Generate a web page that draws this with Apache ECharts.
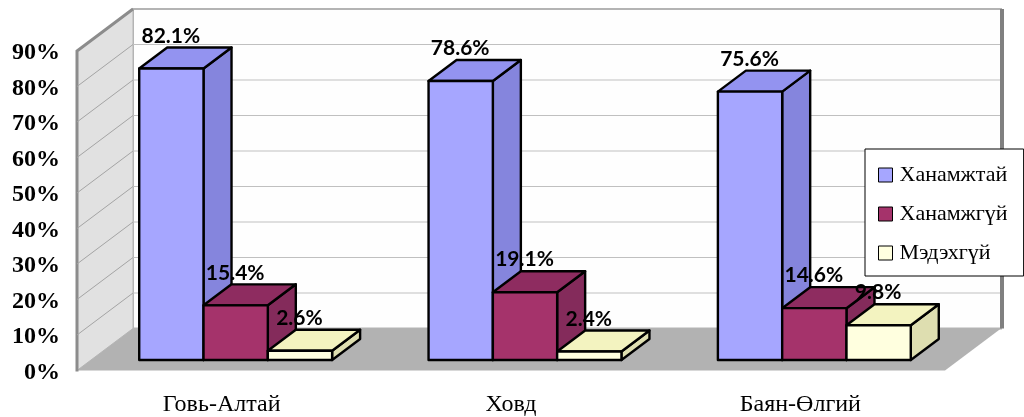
<!DOCTYPE html>
<html>
<head>
<meta charset="utf-8">
<style>html,body{margin:0;padding:0;background:#fff}#chart{width:1024px;height:417px}</style>
<script src="https://cdn.jsdelivr.net/npm/echarts@6/dist/echarts.min.js"></script>
</head>
<body>
<div id="chart"></div>
<script>
// Survey shares per province
const categories = ['Говь-Алтай', 'Ховд', 'Баян-Өлгий'];
const satisfied = [82.1, 78.6, 75.6];
const unsatisfied = [15.4, 19.1, 14.6];
const unknown = [2.6, 2.4, 9.8];
const seriesNames = ['Ханамжтай', 'Ханамжгүй', 'Мэдэхгүй'];
const ticks = [0, 10, 20, 30, 40, 50, 60, 70, 80, 90];

// Front, top and side shades of each box
const shades = [
  { front: '#a6a6ff', top: '#9393f0', side: '#8585dd' },
  { front: '#a5336b', top: '#8e2c60', side: '#842b5b' },
  { front: '#ffffdf', top: '#f3f3c0', side: '#dedeb0' }
];

// Oblique projection: how far the back of the chart box is shifted
const DEPTH_X = 56;
const DEPTH_Y = 42;
const NEAR = 0.25;   // front face of a bar, as a fraction of the depth
const FAR = 0.75;    // back face of a bar

function pts(list) { return { points: list }; }

// Walls, floor and gridlines, one call per axis tick
function renderFrame(params, api) {
  const sys = params.coordSys;
  const left = sys.x, right = sys.x + sys.width;
  const v = api.value(1);
  const y = api.coord([0, v])[1];
  const y0 = sys.y + sys.height, yTop = sys.y;
  const children = [];
  if (v === 0) {
    children.push({ type: 'polygon', shape: pts([[left + DEPTH_X, yTop - DEPTH_Y], [right + DEPTH_X, yTop - DEPTH_Y], [right + DEPTH_X, y0 - DEPTH_Y], [left + DEPTH_X, y0 - DEPTH_Y]]), style: { fill: '#fefefe', stroke: '#b4b4b4', lineWidth: 2 } });
    children.push({ type: 'polygon', shape: pts([[left, yTop], [left + DEPTH_X, yTop - DEPTH_Y], [left + DEPTH_X, y0 - DEPTH_Y], [left, y0]]), style: { fill: '#e1e1e1', stroke: '#b4b4b4', lineWidth: 1 } });
    children.push({ type: 'polygon', shape: pts([[left, y0], [left + DEPTH_X, y0 - DEPTH_Y], [right + DEPTH_X, y0 - DEPTH_Y], [right, y0]]), style: { fill: '#b2b2b2' } });
    children.push({ type: 'polyline', shape: pts([[left, y0 + 1], [left, yTop], [left + DEPTH_X, yTop - DEPTH_Y]]), style: { fill: 'none', stroke: '#8c8c8c', lineWidth: 3 } });
    children.push({ type: 'line', shape: { x1: right + DEPTH_X + 1, y1: yTop - DEPTH_Y, x2: right + DEPTH_X + 1, y2: y0 - DEPTH_Y }, style: { stroke: '#808080', lineWidth: 4 } });
  } else if (v < 90) {
    children.push({ type: 'line', shape: { x1: left, y1: y, x2: left + DEPTH_X, y2: y - DEPTH_Y }, style: { stroke: '#a4a4a4', lineWidth: 1 } });
    children.push({ type: 'line', shape: { x1: left + DEPTH_X, y1: y - DEPTH_Y, x2: right + DEPTH_X - 1, y2: y - DEPTH_Y }, style: { stroke: '#c0c0c0', lineWidth: 1.2 } });
  }
  return { type: 'group', children };
}

// One box of a cluster, with its value printed above the front face
function renderBox(params, api) {
  const s = params.seriesIndex - 1;
  const band = api.size([1, 0])[0];
  const w = band * 2 / 9;
  const c = api.coord([api.value(0), api.value(1)]);
  const base = api.coord([api.value(0), 0])[1];
  const x0 = c[0] + DEPTH_X * NEAR - w * 1.5 + w * s;
  const x1 = x0 + w;
  const yT = c[1] - DEPTH_Y * NEAR;
  const yB = base - DEPTH_Y * NEAR;
  const dx = DEPTH_X * (FAR - NEAR), dy = DEPTH_Y * (FAR - NEAR);
  const edge = { stroke: '#000', lineWidth: 2.4, lineJoin: 'round' };
  const shade = shades[s];
  return {
    type: 'group',
    children: [
      { type: 'polygon', shape: pts([[x1, yT], [x1 + dx, yT - dy], [x1 + dx, yB - dy], [x1, yB]]), style: Object.assign({ fill: shade.side }, edge) },
      { type: 'polygon', shape: pts([[x0, yT], [x0 + dx, yT - dy], [x1 + dx, yT - dy], [x1, yT]]), style: Object.assign({ fill: shade.top }, edge) },
      { type: 'polygon', shape: pts([[x0, yT], [x1, yT], [x1, yB], [x0, yB]]), style: Object.assign({ fill: shade.front }, edge) },
      { type: 'text', z2: 10, style: { text: api.value(1).toFixed(1) + '%', x: (x0 + x1) / 2 - 0.5, y: yT - 32.5, align: 'center', verticalAlign: 'middle', fill: '#000', font: 'bold 21px Lato' } }
    ]
  };
}

function boxSeries(name, values, i) {
  return {
    type: 'custom', name, z: 3 + i, renderItem: renderBox, silent: true,
    itemStyle: { color: shades[i].front },
    encode: { x: 0, y: 1 },
    data: values.map((v, k) => [k, v])
  };
}

const chart = echarts.init(document.getElementById('chart'), null, { renderer: 'canvas' });
chart.setOption({
  animation: false,
  backgroundColor: '#fff',
  grid: { left: 77, top: 51, width: 868, height: 319.5, containLabel: false },
  legend: {
    data: seriesNames, orient: 'vertical', left: 865, top: 149,
    padding: [15, 16, 12, 13], itemWidth: 14, itemHeight: 14, itemGap: 17,
    backgroundColor: '#fff', borderColor: '#000', borderWidth: 1, borderRadius: 0,
    icon: 'rect', itemStyle: { borderColor: '#000', borderWidth: 1 },
    textStyle: { fontFamily: 'Liberation Serif', fontSize: 22, color: '#000', padding: [0, 0, 0, 2] }
  },
  xAxis: {
    type: 'category', data: categories,
    axisLine: { show: false }, axisTick: { show: false }, splitLine: { show: false },
    axisLabel: { fontFamily: 'Liberation Serif', fontSize: 24, color: '#000', margin: 22 }
  },
  yAxis: {
    type: 'value', min: 0, max: 90, interval: 10,
    axisLine: { show: false }, axisTick: { show: false }, splitLine: { show: false },
    axisLabel: { formatter: '{value}%', fontFamily: 'Liberation Serif', fontWeight: 'bold', fontSize: 24, color: '#000', margin: 17, verticalAlign: 'top', lineHeight: 4 }
  },
  series: [
    { type: 'custom', name: 'frame', z: 1, renderItem: renderFrame, silent: true, encode: { x: 0, y: 1 }, data: ticks.map(t => [0, t]) },
    boxSeries(seriesNames[0], satisfied, 0),
    boxSeries(seriesNames[1], unsatisfied, 1),
    boxSeries(seriesNames[2], unknown, 2)
  ]
});
</script>
</body>
</html>
